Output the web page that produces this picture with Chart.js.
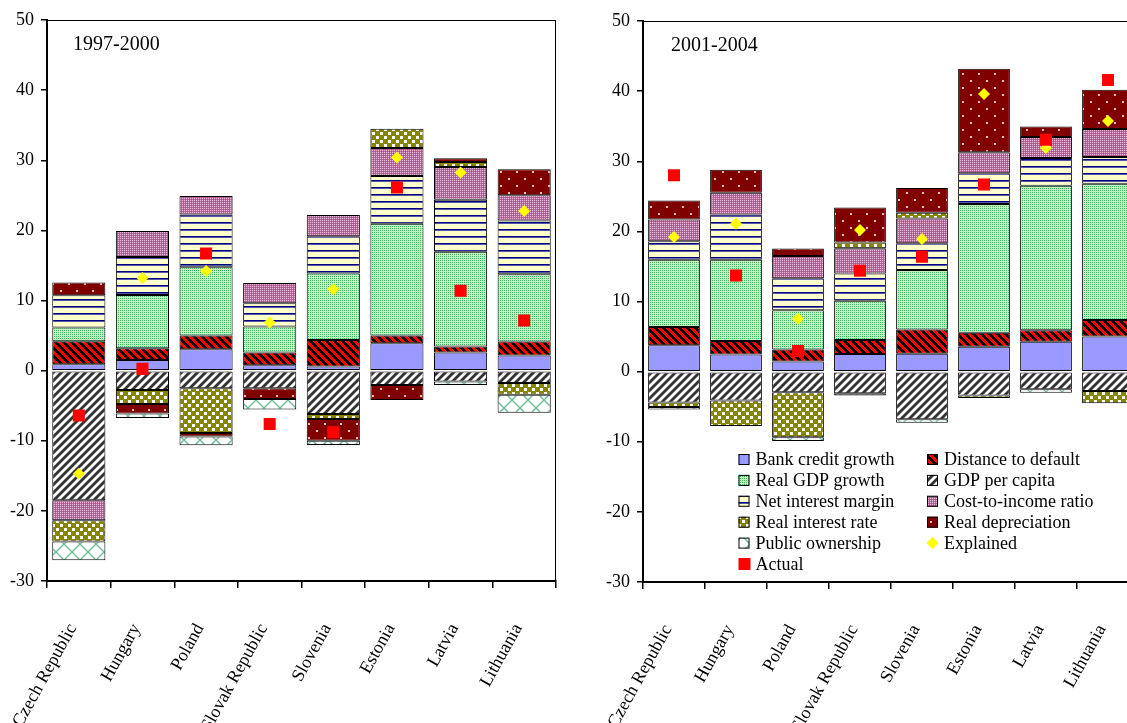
<!DOCTYPE html>
<html>
<head>
<meta charset="utf-8">
<script src="https://cdn.jsdelivr.net/npm/chart.js@4.4.1/dist/chart.umd.min.js"></script>
<style>
  html, body { margin: 0; padding: 0; background: #fff; overflow: hidden; }
  #wrap { position: relative; width: 1127px; height: 723px; overflow: hidden; }
  canvas { position: absolute; top: 0; }
  #left { left: 0; }
  #right { left: 590px; }
</style>
</head>
<body>
<div id="wrap">
  <canvas id="left" width="575" height="723"></canvas>
  <canvas id="right" width="570" height="723"></canvas>
</div>
<script>
const countries = ['Czech Republic', 'Hungary', 'Poland', 'Slovak Republic', 'Slovenia', 'Estonia', 'Latvia', 'Lithuania'];
const yTicks = [-30, -20, -10, 0, 10, 20, 30, 40, 50];
const seriesNames = ['Bank credit growth', 'Distance to default', 'Real GDP growth', 'GDP per capita',
  'Net interest margin', 'Cost-to-income ratio', 'Real interest rate', 'Real depreciation',
  'Public ownership', 'Explained', 'Actual'];

// 1997-2000
const bank97     = [0.9, 1.5, 3.05, 0.75, 0.6, 3.9, 2.6, 2.15];
const dist97     = [3.3, 1.7, 1.95, 1.85, 3.75, 1.1, 0.85, 2.0];
const realGdp97  = [1.95, 7.6, 9.75, 3.7, 9.5, 15.95, 13.5, 9.6];
const gdpPc97    = [-18.5, -2.75, -2.5, -2.5, -6.2, -2.05, -1.55, -1.75];
const nim97      = [4.6, 5.4, 7.5, 3.3, 5.3, 6.8, 7.4, 7.65];
const cost97     = [-2.85, 3.7, 2.65, 2.9, 3.05, 4.0, 4.7, 3.6];
const realIr97   = [-3.0, -2.0, -6.4, 0, -0.7, 2.75, 0.7, -1.7];
const realDep97  = [1.8, -1.35, -0.5, -1.55, -3.1, -2.15, 0.55, 3.7];
const public97   = [-2.7, -0.65, -1.25, -1.5, -0.6, 0, -0.5, -2.55];
const explained97 = [-14.7, 13.2, 14.2, 6.85, 11.6, 30.4, 28.25, 22.75];
const actual97   = [-6.4, 0.25, 16.7, -7.6, -8.8, 26.1, 11.4, 7.15];

// 2001-2004
const bank01     = [3.75, 2.45, 1.45, 2.5, 2.55, 3.55, 4.25, 5.0];
const dist01     = [2.6, 1.9, 1.7, 2.0, 3.45, 2.0, 1.65, 2.35];
const realGdp01  = [9.6, 11.6, 5.6, 5.6, 8.5, 18.35, 20.6, 19.45];
const gdpPc01    = [-4.4, -4.1, -2.95, -3.1, -6.8, -3.4, -2.5, -2.75];
const nim01      = [2.65, 6.45, 4.55, 3.9, 3.8, 4.4, 3.95, 3.8];
const cost01     = [3.1, 3.1, 3.2, 3.6, 3.55, 3.0, 3.0, 4.0];
const realIr01   = [-0.65, -3.65, -6.4, 0.8, 0.8, -0.35, 0, -1.75];
const realDep01  = [2.7, 3.3, 1.05, 5.0, 3.55, 11.9, 1.5, 5.6];
const public01   = [-0.35, 0, -0.55, -0.3, -0.5, 0, -0.5, 0];
const explained01 = [19.2, 21.1, 7.55, 20.2, 18.9, 39.6, 31.9, 35.75];
const actual01   = [28.0, 13.7, 2.95, 14.4, 16.4, 26.7, 33.05, 41.6];

const FONT = '"Liberation Serif", "Times New Roman", serif';

// small fill patterns, like the Excel ones
function tile(w, h, draw) {
  const c = document.createElement('canvas');
  c.width = w; c.height = h;
  const g = c.getContext('2d');
  draw(g, w, h);
  return g.createPattern(c, 'repeat');
}
function pixelTile(w, h, colorAt) {
  return tile(w, h, (g) => {
    for (let y = 0; y < h; y++) {
      for (let x = 0; x < w; x++) {
        g.fillStyle = colorAt(x, y);
        g.fillRect(x, y, 1, 1);
      }
    }
  });
}

const fills = [
  '#9999ff',
  pixelTile(8, 8, (x, y) => ((x - y + 8) % 8) < 4 ? '#000000' : '#ff0000'),
  pixelTile(4, 4, (x, y) => (x % 2 === 0 && y % 2 === 0) ? '#3fb35c' : '#bff3bf'),
  pixelTile(8, 8, (x, y) => { const k = (x + y) % 8; return k < 3 ? '#333333' : (k === 3 || k === 7) ? '#999999' : '#ffffff'; }),
  pixelTile(1, 7, (x, y) => y === 5 ? '#000080' : y === 6 ? '#5555aa' : '#ffffcc'),
  pixelTile(4, 4, (x, y) => ((x + y) % 2 === 0) ? (x % 2 === 0 ? '#e8b8d8' : '#a8568a') : '#b46a98'),
  pixelTile(8, 8, (x, y) => ((x % 4 < 3 && y % 4 < 3) && ((x < 4) === (y < 4))) ? '#ffffff' : '#858500'),
  pixelTile(16, 14, (x, y) => (((x === 4 || x === 5) && (y === 3 || y === 4)) || ((x === 12 || x === 13) && (y === 10 || y === 11))) ? '#e8c0c0' : '#800000'),
  tile(16, 16, (g, w, h) => {
    g.fillStyle = '#fff'; g.fillRect(0, 0, w, h);
    g.strokeStyle = '#66b894'; g.lineWidth = 1.3;
    g.beginPath();
    for (let k = -1; k <= 1; k++) {
      g.moveTo(16 * k - 2, -2); g.lineTo(16 * k + 18, 18);
    }
    for (let k = 0; k <= 2; k++) {
      g.moveTo(16 * k + 2, -2); g.lineTo(16 * k - 18, 18);
    }
    g.stroke();
  })
];

function buildDatasets(bars, explained, actual) {
  const ds = bars.map((vals, i) => ({
    type: 'bar',
    label: seriesNames[i],
    data: vals,
    backgroundColor: fills[i],
    borderColor: '#000',
    borderWidth: 1,
    borderSkipped: false,
    barPercentage: 0.835,
    categoryPercentage: 1,
    order: 2
  }));
  ds.push({
    type: 'line', label: seriesNames[9], data: explained, showLine: false, stack: 'exp', order: 1,
    pointStyle: 'rectRot', pointRadius: 6, pointBackgroundColor: '#ffff00', pointBorderWidth: 0
  });
  ds.push({
    type: 'line', label: seriesNames[10], data: actual, showLine: false, stack: 'act', order: 0,
    pointStyle: 'rect', pointRadius: 8.5, pointBackgroundColor: '#ff0000', pointBorderWidth: 0
  });
  return ds;
}

const framePlugin = {
  id: 'frame',
  afterDraw(chart, args, opts) {
    const { ctx, chartArea: a } = chart;
    ctx.save();
    ctx.strokeStyle = '#000';
    ctx.lineWidth = 1;
    ctx.strokeRect(a.left + 0.5, a.top + 0.5, a.right - a.left - 1, a.bottom - a.top);
    ctx.fillStyle = '#000';
    ctx.font = '20px ' + FONT;
    ctx.textBaseline = 'middle';
    ctx.fillText(opts.text, a.left + opts.dx, a.top + 25);
    ctx.restore();
  }
};

const legendPlugin = {
  id: 'boxLegend',
  afterDraw(chart, args, opts) {
    if (!opts.show) return;
    const { ctx, chartArea: a } = chart;
    ctx.save();
    ctx.font = '18px ' + FONT;
    ctx.textBaseline = 'middle';
    seriesNames.forEach((name, i) => {
      const col = i % 2, row = Math.floor(i / 2);
      const x = a.left + 95.5 + col * 188.5;
      const y = a.top + 438.5 + row * 20.9;
      if (i < 9) {
        ctx.fillStyle = fills[i];
        ctx.fillRect(x, y - 5.5, 11, 11);
        ctx.strokeStyle = '#000';
        ctx.lineWidth = 1;
        ctx.strokeRect(x + 0.5, y - 5, 10, 10);
      } else if (i === 9) {
        ctx.fillStyle = '#ffff00';
        ctx.beginPath();
        ctx.moveTo(x - 0.5, y); ctx.lineTo(x + 5.5, y - 6); ctx.lineTo(x + 11.5, y); ctx.lineTo(x + 5.5, y + 6);
        ctx.closePath(); ctx.fill();
      } else {
        ctx.fillStyle = '#ff0000';
        ctx.fillRect(x, y - 6, 12, 12);
      }
      ctx.fillStyle = '#000';
      ctx.fillText(name, x + 17, y + 1);
    });
    ctx.restore();
  }
};

function makeChart(id, datasets, title, axisWidth, padTop, padRight, xHeight, titleDx, showLegend) {
  return new Chart(document.getElementById(id), {
    data: { labels: countries, datasets: datasets },
    plugins: [framePlugin, legendPlugin],
    options: {
      responsive: false,
      animation: false,
      events: [],
      layout: { padding: { top: padTop, right: padRight, left: 0, bottom: 0 } },
      plugins: {
        legend: { display: false },
        tooltip: { enabled: false },
        frame: { text: title, dx: titleDx },
        boxLegend: { show: showLegend }
      },
      scales: {
        x: {
          stacked: true,
          offset: true,
          grid: { drawOnChartArea: false, offset: true, tickLength: 7, color: '#000', lineWidth: 1.5 },
          border: { color: '#000', width: 2 },
          ticks: {
            autoSkip: false, minRotation: 61, maxRotation: 61, padding: 32, labelOffset: -6,
            color: '#000', font: { family: FONT, size: 18 }
          },
          afterFit: (s) => { s.height = xHeight; s.paddingLeft = 0; s.paddingRight = 0; }
        },
        y: {
          stacked: true,
          min: yTicks[0],
          max: yTicks[yTicks.length - 1],
          afterBuildTicks: (s) => { s.ticks = yTicks.map(v => ({ value: v })); },
          grid: { drawOnChartArea: false, tickLength: 6, color: '#000', lineWidth: 1.5 },
          border: { color: '#000', width: 2 },
          ticks: { padding: 7, color: '#000', font: { family: FONT, size: 18 } },
          afterFit: (s) => { s.width = axisWidth; }
        }
      }
    }
  });
}

makeChart('left',
  buildDatasets([bank97, dist97, realGdp97, gdpPc97, nim97, cost97, realIr97, realDep97, public97], explained97, actual97),
  '1997-2000', 47, 20, 19, 142, 26, false);
makeChart('right',
  buildDatasets([bank01, dist01, realGdp01, gdpPc01, nim01, cost01, realIr01, realDep01, public01], explained01, actual01),
  '2001-2004', 53, 21, 21, 141, 28, true);
</script>
</body>
</html>
